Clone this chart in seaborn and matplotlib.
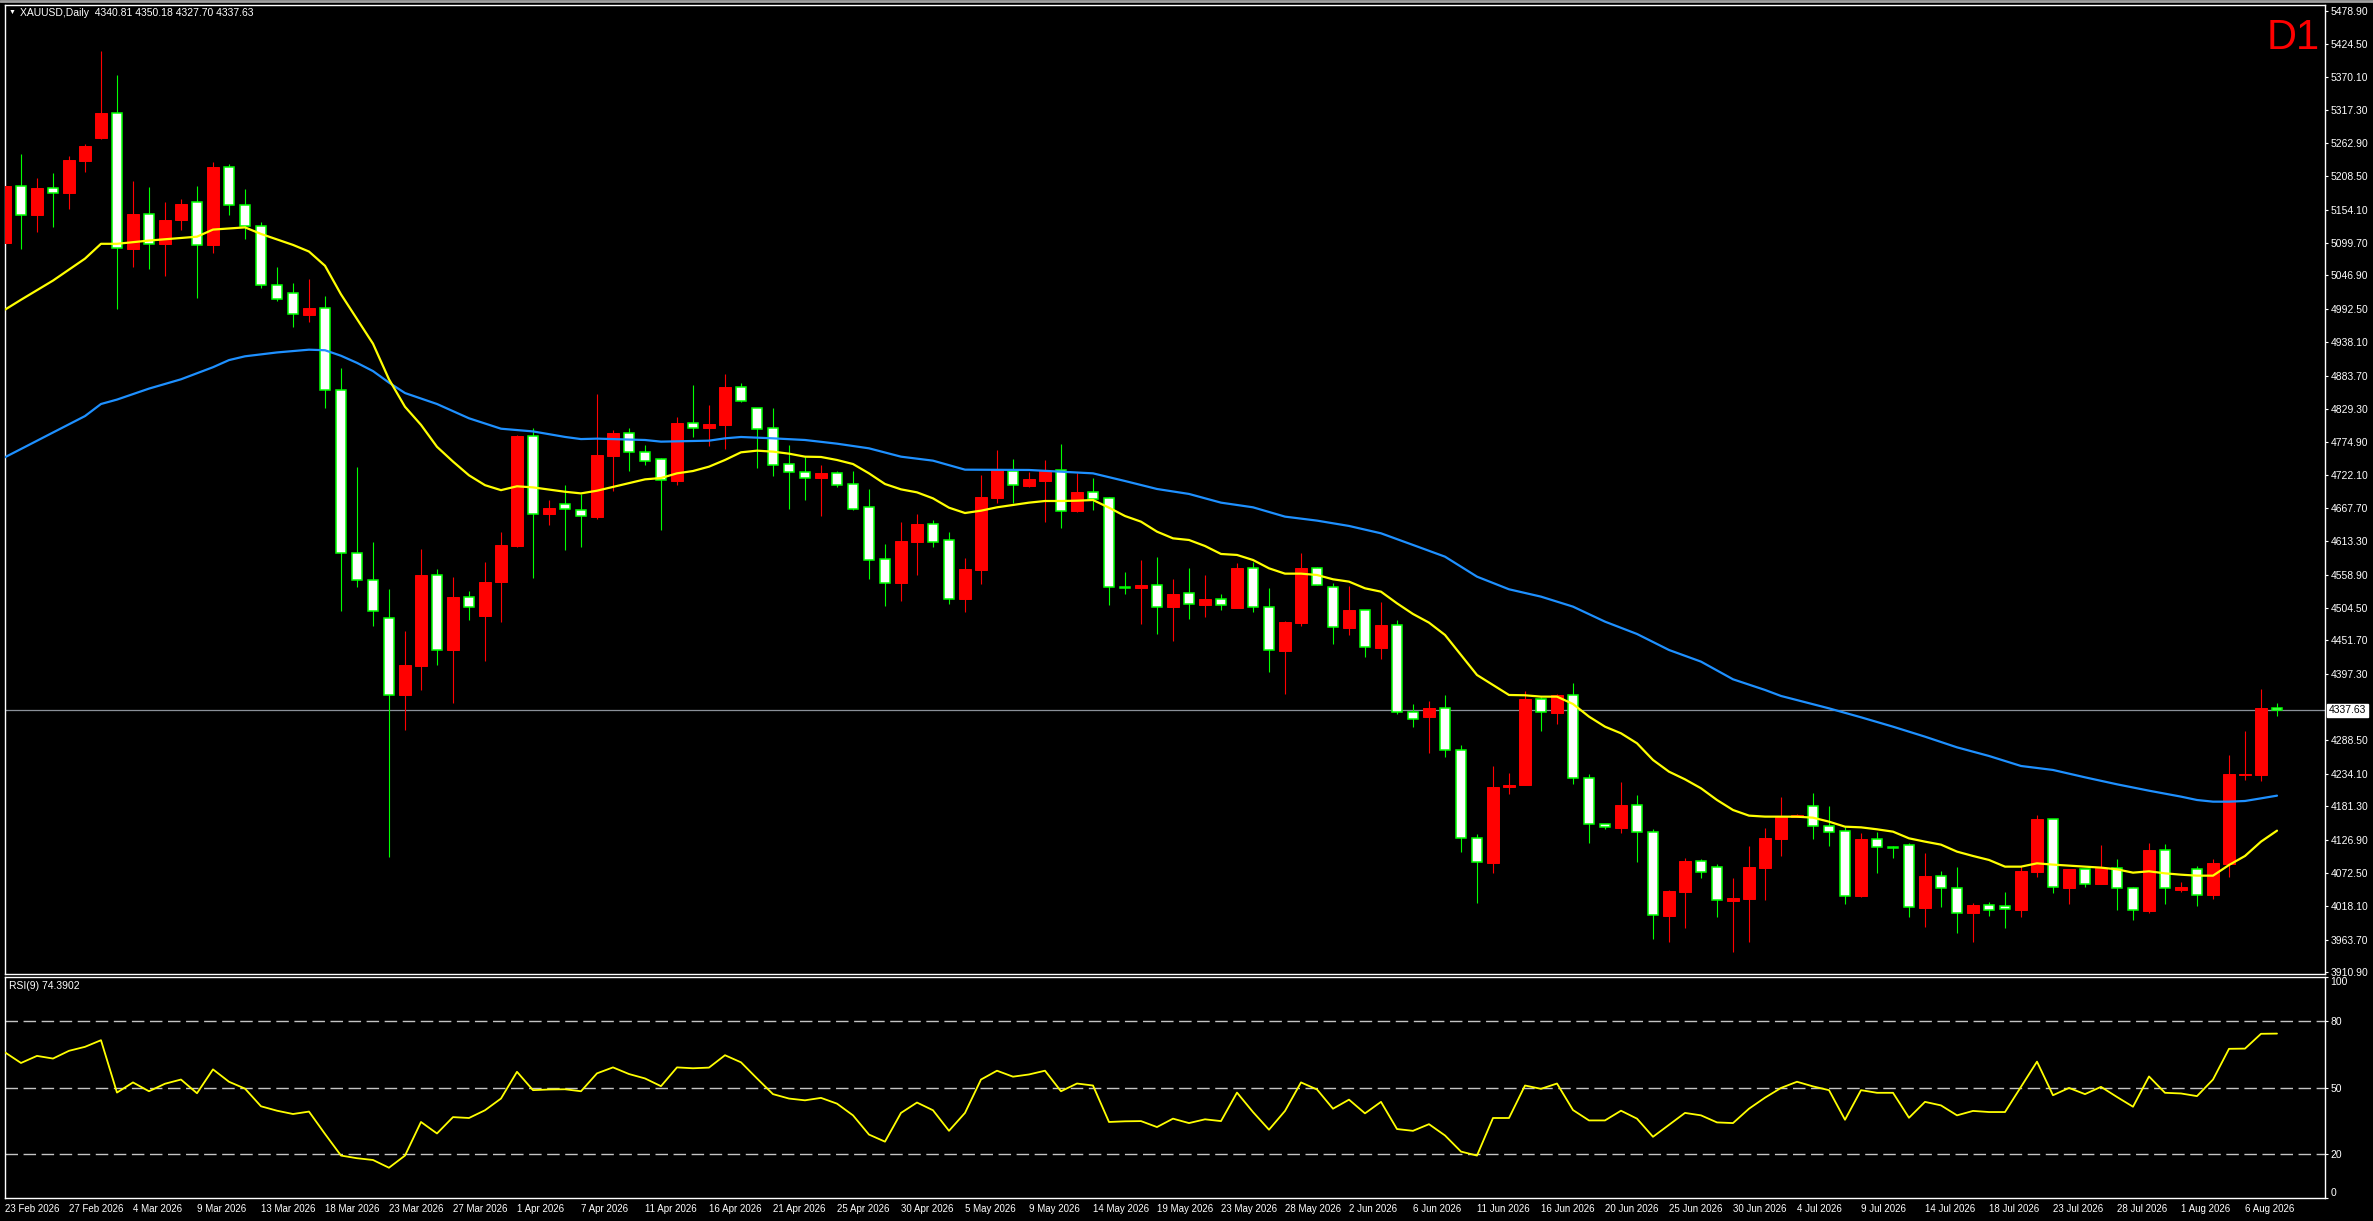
import matplotlib
matplotlib.use("Agg")
import matplotlib.pyplot as plt
import numpy as np
import pandas as pd
import seaborn as sns

# ---- data (XAUUSD daily, 143 bars) ----
opens = [5099.5, 5192.5, 5146.0, 5188.9, 5180.9, 5233.7, 5271.2, 5311.5, 5090.5, 5146.9,
         5097.7, 5137.0, 5167.5, 5095.9, 5223.8, 5161.2, 5128.1, 5030.6, 5018.0, 4983.1,
         4993.9, 4859.7, 4593.9, 4551.0, 4488.4, 4363.1, 4410.5, 4558.2, 4436.5, 4522.4,
         4491.1, 4546.5, 4606.5, 4785.4, 4658.3, 4673.6, 4664.6, 4653.7, 4753.0, 4789.5,
         4759.6, 4747.0, 4712.3, 4805.8, 4798.7, 4803.1, 4865.0, 4830.2, 4797.6, 4738.9,
         4725.8, 4717.1, 4724.2, 4706.3, 4668.8, 4583.9, 4545.9, 4612.8, 4641.6, 4614.9,
         4519.8, 4567.1, 4684.5, 4728.0, 4704.1, 4711.7, 4729.1, 4662.8, 4693.2, 4683.4,
         4538.3, 4537.7, 4541.5, 4506.7, 4528.5, 4510.0, 4518.7, 4505.2, 4569.3, 4505.7,
         4434.5, 4480.7, 4569.3, 4538.3, 4472.5, 4500.8, 4439.9, 4476.3, 4334.4, 4327.4,
         4341.0, 4272.4, 4128.9, 4089.2, 4212.1, 4216.5, 4356.2, 4333.9, 4362.2, 4226.8,
         4151.7, 4146.3, 4183.3, 4138.7, 4002.8, 4041.9, 4091.9, 4082.1, 4027.2, 4030.5,
         4081.1, 4128.4, 4164.2, 4181.1, 4148.5, 4140.3, 4034.8, 4127.3, 4114.2, 4117.5,
         4015.8, 4066.9, 4047.3, 4007.6, 4019.6, 4018.0, 4012.5, 4074.5, 4159.9, 4048.4,
         4078.3, 4054.9, 4080.0, 4047.3, 4010.4, 4109.3, 4045.2, 4078.3, 4037.0, 4087.6,
         4232.7, 4232.7, 4340.81]
highs = [5202.3, 5245.3, 5205.9, 5214.0, 5241.7, 5261.4, 5412.6, 5374.1, 5200.6, 5191.6,
         5166.6, 5171.0, 5192.5, 5232.8, 5229.2, 5188.0, 5133.5, 5061.0, 5034.1, 5041.3,
         5013.6, 4896.4, 4734.4, 4611.9, 4535.8, 4467.8, 4600.2, 4568.0, 4554.6, 4532.2,
         4579.6, 4628.0, 4787.2, 4798.0, 4680.7, 4704.9, 4689.7, 4853.6, 4794.9, 4798.2,
         4769.9, 4749.2, 4816.1, 4868.3, 4835.7, 4886.8, 4871.6, 4830.2, 4830.8, 4770.4,
         4751.4, 4737.8, 4728.0, 4728.0, 4698.7, 4608.9, 4645.4, 4657.9, 4648.1, 4628.5,
         4586.1, 4721.5, 4762.3, 4747.6, 4726.4, 4746.0, 4772.1, 4725.3, 4716.6, 4685.6,
         4563.3, 4582.9, 4587.8, 4551.9, 4569.8, 4558.4, 4527.4, 4577.5, 4580.2, 4537.2,
         4483.4, 4594.3, 4571.5, 4545.4, 4541.0, 4500.8, 4514.4, 4485.0, 4348.0, 4352.9,
         4362.7, 4281.2, 4136.0, 4246.9, 4235.5, 4369.2, 4360.0, 4364.3, 4382.8, 4234.4,
         4151.7, 4221.3, 4199.6, 4144.1, 4044.6, 4097.4, 4095.7, 4087.6, 4064.8, 4116.9,
         4146.3, 4196.9, 4168.6, 4202.3, 4181.6, 4147.9, 4137.0, 4139.2, 4117.0, 4120.7,
         4105.0, 4075.6, 4081.6, 4022.9, 4025.1, 4041.4, 4084.3, 4166.9, 4159.9, 4078.9,
         4078.3, 4118.0, 4095.2, 4049.5, 4121.8, 4119.7, 4057.7, 4083.8, 4095.2, 4264.8,
         4304.0, 4372.5, 4350.18]
lows = [5096.8, 5089.6, 5117.3, 5126.3, 5154.9, 5215.8, 5269.4, 4992.1, 5061.0, 5058.3,
        5046.7, 5120.9, 5010.0, 5083.4, 5145.1, 5105.7, 5027.0, 5005.5, 4962.6, 4970.6,
        4831.0, 4500.0, 4539.4, 4475.9, 4099.2, 4305.0, 4371.2, 4411.4, 4349.7, 4484.8,
        4418.6, 4481.2, 4603.8, 4552.8, 4640.5, 4598.4, 4604.7, 4649.6, 4695.4, 4728.6,
        4738.4, 4631.8, 4705.7, 4783.5, 4769.4, 4763.9, 4841.1, 4733.5, 4720.4, 4666.0,
        4680.7, 4655.2, 4702.5, 4665.0, 4551.9, 4508.4, 4516.5, 4558.9, 4604.6, 4511.6,
        4498.6, 4544.2, 4675.8, 4675.8, 4701.9, 4645.4, 4635.6, 4661.1, 4664.4, 4509.5,
        4527.4, 4478.5, 4462.2, 4450.7, 4486.6, 4490.5, 4501.4, 4505.2, 4498.6, 4400.8,
        4364.9, 4475.8, 4541.6, 4446.4, 4461.1, 4425.2, 4422.0, 4332.3, 4311.0, 4268.6,
        4262.1, 4107.2, 4024.0, 4072.9, 4201.8, 4216.5, 4304.5, 4315.4, 4218.1, 4121.8,
        4144.7, 4137.1, 4090.9, 3965.3, 3960.4, 3983.2, 4064.8, 4001.1, 3944.1, 3960.4,
        4028.9, 4100.6, 4163.7, 4127.8, 4116.4, 4022.3, 4033.7, 4072.4, 4097.4, 4000.6,
        3984.3, 4016.9, 3975.0, 3959.8, 4002.2, 3982.6, 4000.6, 4065.8, 4040.3, 4022.3,
        4049.5, 4054.9, 4012.5, 3996.2, 4007.6, 4022.3, 4041.9, 4019.1, 4030.5, 4066.4,
        4224.6, 4223.0, 4327.70]
closes = [5192.5, 5145.1, 5189.8, 5180.9, 5235.4, 5257.8, 5311.5, 5092.3, 5146.9, 5098.6,
          5137.0, 5163.9, 5096.8, 5223.8, 5161.2, 5128.1, 5030.6, 5009.1, 4984.0, 4993.9,
          4859.7, 4593.9, 4551.0, 4500.0, 4363.1, 4411.4, 4558.2, 4436.5, 4522.4, 4506.3,
          4546.5, 4607.4, 4785.4, 4658.3, 4667.3, 4665.5, 4653.9, 4754.1, 4789.5, 4759.6,
          4743.8, 4712.8, 4805.8, 4798.7, 4804.7, 4865.0, 4842.7, 4797.1, 4738.4, 4725.8,
          4717.1, 4724.8, 4705.7, 4666.6, 4583.4, 4545.9, 4613.8, 4641.6, 4611.7, 4519.8,
          4568.2, 4685.6, 4729.7, 4704.6, 4715.0, 4728.0, 4663.3, 4693.8, 4682.9, 4538.3,
          4537.7, 4542.1, 4506.7, 4527.4, 4510.5, 4518.7, 4508.9, 4569.8, 4505.7, 4435.6,
          4481.8, 4569.8, 4541.6, 4473.1, 4501.4, 4440.5, 4476.9, 4334.4, 4323.0, 4341.5,
          4272.4, 4128.9, 4089.8, 4212.6, 4215.9, 4356.2, 4334.4, 4362.2, 4226.8, 4151.7,
          4147.4, 4183.3, 4138.7, 4003.3, 4043.0, 4091.9, 4073.4, 4027.8, 4031.6, 4082.1,
          4129.4, 4163.7, 4166.9, 4148.5, 4139.8, 4035.4, 4127.8, 4114.2, 4113.1, 4016.4,
          4067.5, 4047.3, 4007.6, 4019.6, 4011.5, 4013.1, 4075.6, 4160.4, 4049.0, 4078.9,
          4053.9, 4081.1, 4047.3, 4011.5, 4109.9, 4047.3, 4049.5, 4037.0, 4088.7, 4233.8,
          4233.8, 4341.5, 4337.63]

# moving averages: bar numbers where the line was read, and the value there
ma_fast_bars = [0, 1, 3, 5, 6, 7, 9, 12, 13, 15, 16, 18, 19, 20, 21, 22, 23, 24, 25, 26,
                27, 28, 29, 30, 31, 32, 33, 34, 35, 36, 37] + list(range(40, 143))
ma_fast = [4991.2, 5007.3, 5038.6, 5074.4, 5098.6, 5098.6, 5103.9, 5110.2, 5121.8, 5125.4,
           5114.7, 5096.8, 5086.0, 5062.8, 5016.2, 4976.0, 4935.7, 4877.6, 4832.8, 4803.3,
           4767.5, 4743.4, 4721.0, 4704.9, 4696.8, 4703.1, 4701.3, 4697.7, 4694.2, 4691.5,
           4695.9,
           4714.4, 4716.6, 4724.2, 4728.0, 4735.1, 4746.0, 4758.5, 4761.2, 4759.6, 4756.3,
           4751.4, 4750.9, 4746.0, 4739.4, 4724.2, 4706.8, 4698.1, 4693.2, 4683.4, 4668.2,
           4659.5, 4663.3, 4668.8, 4672.6, 4676.4, 4679.1, 4679.1, 4679.6, 4680.7, 4668.2,
           4654.6, 4645.4, 4629.1, 4618.2, 4615.5, 4605.7, 4592.7, 4591.1, 4582.9, 4569.3,
           4560.6, 4560.6, 4558.4, 4551.4, 4547.6, 4536.7, 4531.2, 4512.2, 4494.8, 4480.7,
           4460.6, 4427.9, 4395.3, 4379.0, 4362.7, 4362.2, 4360.0, 4360.0, 4348.0, 4327.4,
           4311.0, 4300.2, 4283.9, 4256.7, 4237.6, 4225.1, 4210.5, 4191.4, 4175.1, 4165.9,
           4164.3, 4164.3, 4164.2, 4162.6, 4156.1, 4147.9, 4146.8, 4143.6, 4139.8, 4128.9,
           4123.5, 4118.6, 4107.2, 4100.1, 4093.6, 4082.7, 4082.7, 4088.1, 4086.0, 4084.3,
           4082.7, 4081.1, 4078.3, 4072.9, 4075.1, 4071.8, 4069.6, 4068.0, 4068.0, 4085.4,
           4100.1, 4123.5, 4141.4]
ma_slow_bars = [0, 1, 3, 5, 6, 7, 9, 11, 13, 14, 15, 17, 19, 20, 21, 22, 23, 24, 25, 27,
                29, 31, 33, 35, 36, 37, 40, 41, 44, 45, 46, 48, 50, 52, 54, 56, 58, 60, 64,
                66, 68, 70, 72, 74, 76, 78, 80, 82, 84, 86, 88, 90, 92, 94, 96, 98, 100,
                102, 104, 106, 108, 110, 111, 114, 116, 118, 120, 122, 124, 126, 128, 130,
                132, 134, 136, 137, 138, 139, 140, 141, 142]
ma_slow = [4750.5, 4763.9, 4790.8, 4817.6, 4837.3, 4844.5, 4862.4, 4877.6, 4897.3, 4908.9,
           4915.1, 4921.4, 4925.9, 4925.0, 4916.0, 4904.4, 4891.0, 4872.2, 4855.2, 4837.3,
           4814.0, 4797.0, 4792.6, 4783.6, 4780.1, 4780.8, 4778.6, 4775.9, 4777.5, 4781.3,
           4783.5, 4781.3, 4778.6, 4772.6, 4765.0, 4751.4, 4744.9, 4730.2, 4729.7, 4726.9,
           4724.2, 4711.7, 4698.7, 4690.6, 4676.4, 4668.8, 4653.6, 4647.1, 4638.4, 4626.4,
           4607.4, 4588.3, 4555.7, 4535.1, 4523.1, 4506.8, 4482.3, 4462.2, 4436.1, 4417.1,
           4388.3, 4370.9, 4361.1, 4340.9, 4326.3, 4311.0, 4294.7, 4277.3, 4263.2, 4246.9,
           4240.4, 4228.4, 4217.0, 4206.6, 4196.9, 4191.4, 4188.7, 4188.7, 4189.8, 4194.1,
           4198.5]

rsi = [65.9, 61.1, 64.3, 63.1, 66.6, 68.4, 71.4, 47.7, 52.3, 48.3,
       51.7, 53.6, 47.4, 58.2, 52.6, 49.5, 41.5, 39.5, 38.0, 39.1,
       29.0, 19.2, 18.0, 17.2, 13.7, 19.2, 34.4, 29.2, 36.6, 36.2,
       39.7, 45.0, 57.1, 48.8, 49.1, 49.2, 48.3, 56.4, 59.1, 56.1,
       54.1, 50.6, 59.1, 58.7, 59.0, 64.6, 61.4, 54.1, 47.0, 45.0,
       44.2, 45.3, 42.7, 37.4, 28.7, 25.5, 38.5, 43.2, 39.7, 30.4,
       38.5, 53.6, 57.6, 54.9, 55.9, 57.6, 48.3, 51.8, 50.9, 34.4,
       34.7, 34.8, 32.1, 35.9, 33.9, 35.6, 34.8, 47.7, 38.9, 30.9,
       39.4, 52.3, 49.1, 40.4, 44.5, 38.3, 43.5, 31.2, 30.4, 33.4,
       28.3, 21.0, 19.2, 36.2, 36.2, 50.9, 49.4, 51.8, 39.8, 35.1,
       35.1, 39.5, 35.9, 27.7, 33.1, 38.5, 37.4, 34.2, 33.9, 40.4,
       45.4, 49.8, 52.6, 50.5, 48.8, 35.4, 48.8, 47.6, 47.6, 36.3,
       43.5, 41.9, 37.4, 39.4, 38.9, 38.9, 50.3, 61.7, 46.5, 49.8,
       47.0, 50.3, 45.7, 41.3, 55.0, 47.6, 47.3, 46.1, 53.6, 67.5,
       67.6, 74.3, 74.39]

date_labels = ["23 Feb 2026", "27 Feb 2026", "4 Mar 2026", "9 Mar 2026", "13 Mar 2026",
               "18 Mar 2026", "23 Mar 2026", "27 Mar 2026", "1 Apr 2026", "7 Apr 2026",
               "11 Apr 2026", "16 Apr 2026", "21 Apr 2026", "25 Apr 2026", "30 Apr 2026",
               "5 May 2026", "9 May 2026", "14 May 2026", "19 May 2026", "23 May 2026",
               "28 May 2026", "2 Jun 2026", "6 Jun 2026", "11 Jun 2026", "16 Jun 2026",
               "20 Jun 2026", "25 Jun 2026", "30 Jun 2026", "4 Jul 2026", "9 Jul 2026",
               "14 Jul 2026", "18 Jul 2026", "23 Jul 2026", "28 Jul 2026", "1 Aug 2026",
               "6 Aug 2026"]

price_ticks = [5478.90, 5424.50, 5370.10, 5317.30, 5262.90, 5208.50, 5154.10, 5099.70,
               5046.90, 4992.50, 4938.10, 4883.70, 4829.30, 4774.90, 4722.10, 4667.70,
               4613.30, 4558.90, 4504.50, 4451.70, 4397.30, 4288.50, 4234.10, 4181.30,
               4126.90, 4072.50, 4018.10, 3963.70, 3910.90]
rsi_ticks = [100, 80, 50, 20, 0]
rsi_levels = [80, 50, 20]
last_price = 4337.63
title = "XAUUSD,Daily  4340.81 4350.18 4327.70 4337.63"
rsi_title = "RSI(9) 74.3902"

RED = "#ff0000"
GREEN = "#00ff00"
YELLOW = "#ffff00"
BLUE = "#1e90ff"

W, H = 2373, 1221
sns.set_style("dark", {"axes.facecolor": "black", "figure.facecolor": "black",
                       "axes.edgecolor": "white"})
plt.rcParams["font.family"] = ["Liberation Sans", "DejaVu Sans"]

fig = plt.figure(figsize=(W / 100, H / 100), dpi=100)
fig.patch.set_facecolor("black")


def px_box(x0, y0, x1, y1):
    return [x0 / W, 1 - y1 / H, (x1 - x0) / W, (y1 - y0) / H]


ax = fig.add_axes(px_box(4.5, 5, 2325, 974))
rax = fig.add_axes(px_box(4.5, 977, 2325, 1198), sharex=ax)

# ---- candles ----
x = np.arange(len(opens))
o = np.array(opens)
c = np.array(closes)
hi = np.array(highs)
lo = np.array(lows)
up = c >= o
body_lo = np.minimum(o, c)
body_h = np.maximum(np.abs(c - o), 0.01)

ax.vlines(x[up], lo[up], hi[up], color=RED, lw=0.8, zorder=2)
ax.vlines(x[~up], lo[~up], hi[~up], color=GREEN, lw=0.8, zorder=2)
ax.bar(x[up], body_h[up], bottom=body_lo[up], width=0.69, color=RED,
       edgecolor=RED, linewidth=0.7, zorder=3)
ax.bar(x[~up], body_h[~up], bottom=body_lo[~up], width=0.63, color="white",
       edgecolor=GREEN, linewidth=1.1, zorder=3)

# moving averages
fast_df = pd.DataFrame({"bar": ma_fast_bars, "ma": ma_fast})
slow_df = pd.DataFrame({"bar": ma_slow_bars, "ma": ma_slow})
sns.lineplot(data=slow_df, x="bar", y="ma", ax=ax, color=BLUE, lw=1.6, zorder=4)
sns.lineplot(data=fast_df, x="bar", y="ma", ax=ax, color=YELLOW, lw=1.6, zorder=4)

ax.axhline(last_price, color="#8a9099", lw=0.9, zorder=1)

ax.set_xlim(-0.03, 145)
ax.set_ylim(3907.6, 5488.1)
ax.set_xlabel("")
ax.set_ylabel("")
ax.yaxis.tick_right()
ax.set_yticks(price_ticks)
ax.set_yticklabels([f"{v:.2f}" for v in price_ticks])
ax.tick_params(axis="y", colors="white", labelsize=7.5, length=2.5, width=0.8,
               direction="out", pad=1.5)
ax.tick_params(axis="x", bottom=False, labelbottom=False)
ax.text(1.0015, last_price, f"{last_price:.2f}", transform=ax.get_yaxis_transform(),
        ha="left", va="center", fontsize=7.5, color="black", zorder=6,
        bbox=dict(facecolor="white", edgecolor="white", pad=1.2), clip_on=False)

# ---- RSI ----
rsi_df = pd.DataFrame({"bar": x, "rsi": rsi})
for lv in rsi_levels:
    rax.axhline(lv, color="#c4c4c4", lw=1.0, ls=(0, (9, 4)), zorder=1)
sns.lineplot(data=rsi_df, x="bar", y="rsi", ax=rax, color=YELLOW, lw=1.3, zorder=3)
rax.set_ylim(0, 100)
rax.set_xlabel("")
rax.set_ylabel("")
rax.yaxis.tick_right()
rax.set_yticks(rsi_ticks)
rax.set_yticklabels([str(v) for v in rsi_ticks])
rax.tick_params(axis="y", colors="white", labelsize=7.5, length=2.5, width=0.8,
                direction="out", pad=1.5)
for t in rax.get_yticklabels():
    if t.get_text() == "100":
        t.set_va("top")
    elif t.get_text() == "0":
        t.set_va("bottom")
rax.set_xticks(list(range(0, 4 * len(date_labels), 4)))
rax.set_xticklabels(date_labels, ha="left")
rax.tick_params(axis="x", colors="white", labelsize=7, length=3, width=0.8,
                direction="out", pad=1.5)

for a in (ax, rax):
    a.grid(False)
    for s in a.spines.values():
        s.set_color("white")
        s.set_linewidth(1.0)

# ---- texts ----
fig.text(9 / W, 1 - 12.7 / H, "\u25bc", color="white", fontsize=5, va="center")
fig.text(20 / W, 1 - 12.7 / H, title, color="white", fontsize=7.5, va="center")
fig.text(9 / W, 1 - 986 / H, rsi_title, color="white", fontsize=7.5, va="center")
fig.text(2320 / W, 1 - 49 / H, "D1", color=RED, fontsize=30, ha="right", va="baseline")
fig.add_artist(plt.Line2D([0, 1], [1 - 1.2 / H, 1 - 1.2 / H], color="#a0a0a0", lw=2,
                          transform=fig.transFigure))

fig.savefig("out.png", dpi=100, facecolor="black")
